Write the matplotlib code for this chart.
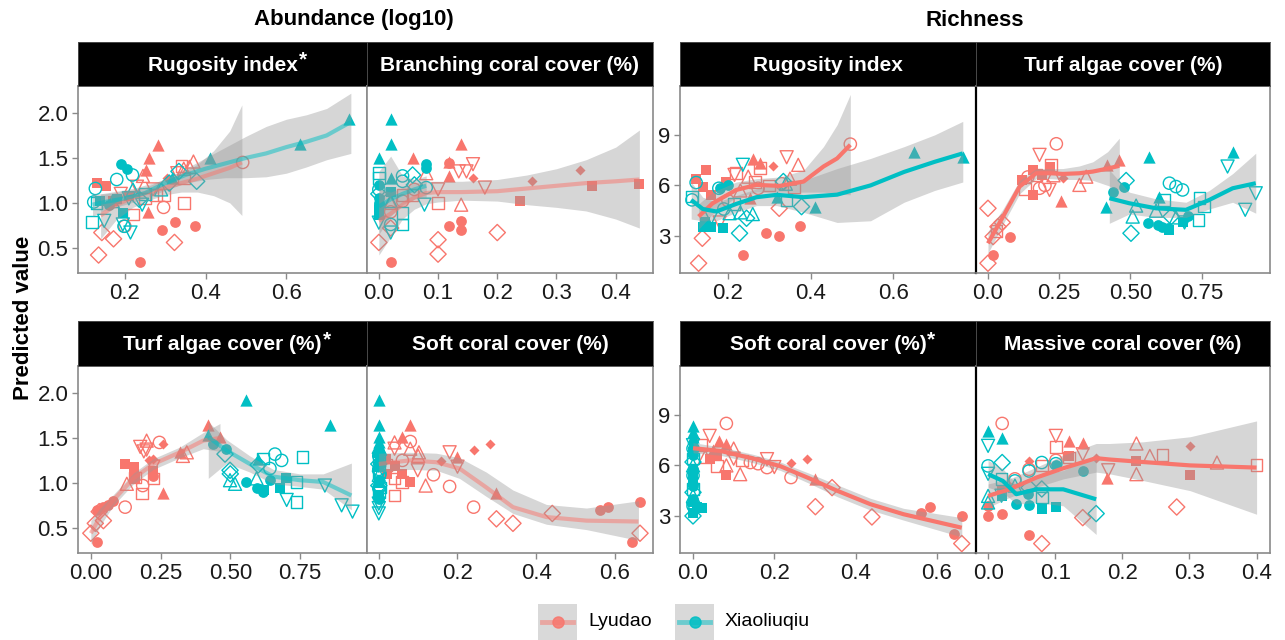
import matplotlib
matplotlib.use("Agg")
import matplotlib.pyplot as plt
from matplotlib.lines import Line2D
from matplotlib.patches import Rectangle

plt.rcParams['font.family'] = ['Liberation Sans', 'DejaVu Sans']

RED = '#F8766D'
TEAL = '#00BFC4'

# ---------------- data ----------------
# marker codes: o/s/^/D filled circle/square/triangle/diamond,
#               O/S/T/V/d open circle/square/triangle/down-triangle/diamond

# Abundance ~ rugosity
a_rug_L_x = [0.131, 0.154, 0.17, 0.21, 0.281, 0.261, 0.253, 0.258, 0.292, 0.324, 0.373, 0.238, 0.305, 0.135, 0.172,
             0.143, 0.323, 0.492, 0.296, 0.20, 0.346, 0.297, 0.277, 0.22, 0.34, 0.346, 0.37, 0.346, 0.245, 0.27,
             0.23, 0.19, 0.33, 0.36, 0.25]
a_rug_L_y = [1.22, 1.19, 1.02, 1.08, 1.64, 1.50, 1.37, 0.90, 0.70, 0.79, 0.74, 0.34, 1.28, 0.42, 0.60,
             0.67, 0.56, 1.45, 0.95, 0.74, 1.00, 1.09, 1.09, 0.87, 1.41, 1.28, 1.46, 1.38, 1.30, 1.15,
             1.18, 1.10, 1.33, 1.40, 1.05]
a_rug_L_m = "s s s s ^ ^ ^ ^ o o o o D d d d d O O O S S S S S S T T T V V V V T S"
a_rug_X_x = [0.19, 0.206, 0.139, 0.18, 0.196, 0.756, 0.635, 0.41, 0.317, 0.127, 0.123, 0.18, 0.219, 0.198, 0.119,
             0.13, 0.149, 0.214, 0.243, 0.195, 0.334, 0.378, 0.236, 0.22, 0.17, 0.16, 0.25, 0.29, 0.31, 0.21]
a_rug_X_y = [1.43, 1.38, 1.02, 1.04, 0.89, 1.93, 1.65, 1.50, 1.28, 1.16, 1.01, 1.26, 1.31, 0.74, 0.79,
             1.00, 0.80, 0.67, 0.98, 0.76, 1.35, 1.24, 1.04, 1.15, 1.02, 0.98, 1.10, 1.15, 1.22, 1.05]
a_rug_X_m = "o o s s s ^ ^ ^ ^ O O O O O S S V V V V d d d T T o S T d V"
a_rug_L_fit_x = [0.14, 0.18, 0.22, 0.26, 0.30, 0.34, 0.38, 0.42, 0.46, 0.49]
a_rug_L_fit_y = [0.86, 0.98, 1.06, 1.12, 1.17, 1.22, 1.27, 1.33, 1.39, 1.45]
a_rug_L_fit_lo = [0.60, 0.82, 0.95, 1.03, 1.09, 1.12, 1.12, 1.08, 1.00, 0.86]
a_rug_L_fit_hi = [1.10, 1.13, 1.16, 1.21, 1.26, 1.33, 1.43, 1.58, 1.80, 2.09]
a_rug_X_fit_x = [0.12, 0.15, 0.2, 0.25, 0.3, 0.35, 0.4, 0.45, 0.5, 0.55, 0.6, 0.65, 0.7, 0.76]
a_rug_X_fit_y = [0.98, 1.01, 1.05, 1.11, 1.22, 1.31, 1.38, 1.44, 1.50, 1.55, 1.62, 1.68, 1.75, 1.90]
a_rug_X_fit_lo = [0.85, 0.92, 0.98, 1.05, 1.14, 1.22, 1.26, 1.28, 1.28, 1.29, 1.33, 1.40, 1.48, 1.55]
a_rug_X_fit_hi = [1.10, 1.10, 1.13, 1.17, 1.27, 1.38, 1.50, 1.62, 1.74, 1.85, 1.93, 1.98, 2.05, 2.22]

# Abundance ~ branching coral
a_bra_L_x = [0.057, 0.139, 0.118, 0.118, 0.118, 0.139, 0.139, 0.02, 0.118, 0.159, 0.259, 0.339, 0.239, 0.36, 0.44,
             0.0, 0.02, 0.1, 0.1, 0.2, 0.159, 0.135, 0.148, 0.179, 0.1, 0.139, 0.08, 0.02, 0.1, 0.057,
             0.04, 0.04, 0.02, 0.06]
a_bra_L_y = [1.50, 1.65, 1.46, 1.30, 0.74, 0.80, 0.70, 0.34, 1.44, 1.28, 1.24, 1.37, 1.02, 1.19, 1.21,
             0.56, 0.72, 0.59, 0.43, 0.67, 1.43, 1.35, 1.35, 1.17, 1.15, 0.98, 1.33, 1.00, 1.00, 1.09,
             1.09, 1.02, 0.90, 1.15]
a_bra_L_m = "^ ^ ^ ^ o o o o o D D D s s s d d d d d V V V V V T T T S S S O O O"
a_bra_X_x = [0.02, 0.02, 0.0, 0.02, 0.0, 0.0, 0.0, 0.0, 0.0, 0.0, 0.0, 0.04, 0.04, 0.04, 0.04, 0.08, 0.08, 0.08,
             0.057, 0.0, 0.0, 0.02, 0.077, 0.02, 0.02, 0.0, 0.0, 0.02, 0.06]
a_bra_X_y = [1.93, 1.65, 1.50, 1.28, 1.33, 1.28, 1.20, 1.05, 0.98, 0.92, 0.87, 0.76, 0.89, 1.30, 1.24, 1.43, 1.39,
             1.17, 1.31, 1.10, 0.78, 0.67, 0.98, 1.02, 0.76, 1.15, 1.00, 1.12, 1.20]
a_bra_X_m = "^ ^ ^ ^ S S o o o s s S S O O o o O d d V V V T O O o s d"
a_bra_L_fit_x = [0.0, 0.02, 0.04, 0.06, 0.08, 0.1, 0.14, 0.2, 0.25, 0.3, 0.35, 0.4, 0.44]
a_bra_L_fit_y = [0.80, 0.88, 0.98, 1.06, 1.11, 1.12, 1.12, 1.13, 1.16, 1.19, 1.22, 1.24, 1.26]
a_bra_L_fit_lo = [0.42, 0.62, 0.82, 0.93, 0.99, 1.01, 1.03, 1.02, 0.98, 0.95, 0.91, 0.82, 0.72]
a_bra_L_fit_hi = [1.15, 1.12, 1.17, 1.22, 1.24, 1.24, 1.24, 1.26, 1.31, 1.38, 1.48, 1.62, 1.81]
a_bra_X_fit_x = [0.0, 0.02, 0.04, 0.06, 0.08]
a_bra_X_fit_y = [0.96, 1.04, 1.10, 1.15, 1.19]
a_bra_X_fit_lo = [0.65, 0.85, 0.98, 1.04, 1.06]
a_bra_X_fit_hi = [1.35, 1.52, 1.30, 1.26, 1.30]

# Richness ~ rugosity
r_rug_L_x = [0.147, 0.123, 0.159, 0.196, 0.14, 0.26, 0.277, 0.253, 0.308, 0.293, 0.324, 0.374, 0.236, 0.496, 0.273,
             0.129, 0.138, 0.324, 0.342, 0.216, 0.37, 0.249, 0.22, 0.277, 0.265, 0.3, 0.35, 0.18, 0.23, 0.36,
             0.33, 0.2]
r_rug_L_y = [6.92, 6.39, 5.44, 6.2, 5.9, 7.55, 7.3, 5.24, 7.16, 3.16, 3.0, 3.61, 1.87, 8.45, 5.83,
             1.38, 2.86, 4.64, 7.67, 6.62, 7.22, 6.52, 6.72, 7.02, 6.2, 6.0, 6.4, 3.8, 5.7, 5.9,
             6.1, 5.1]
r_rug_L_m = "s s s s s ^ ^ ^ D o o o o O O d d d V V T T S S S S T V T S O O"
r_rug_X_x = [0.649, 0.768, 0.411, 0.319, 0.139, 0.159, 0.188, 0.18, 0.2, 0.123, 0.113, 0.178, 0.113, 0.342, 0.378,
             0.228, 0.245, 0.334, 0.236, 0.204, 0.23, 0.34, 0.16, 0.215, 0.19, 0.26, 0.145]
r_rug_X_y = [8.01, 7.67, 4.74, 5.34, 3.55, 3.55, 3.45, 5.85, 6.03, 6.17, 5.14, 5.83, 5.34, 5.14, 4.74,
             3.16, 4.05, 6.23, 7.22, 4.35, 4.4, 6.1, 4.1, 4.9, 4.6, 4.3, 3.8]
r_rug_X_m = "^ ^ ^ ^ s s s o o O O O S S d d d d V T T T V S O T s"
r_rug_L_fit_x = [0.129, 0.163, 0.22, 0.269, 0.326, 0.383, 0.431, 0.464, 0.496]
r_rug_L_fit_y = [4.15, 4.94, 5.73, 6.03, 5.97, 6.23, 7.12, 7.6, 8.41]
r_rug_L_fit_lo = [3.4, 4.3, 5.3, 5.6, 5.6, 5.6, 5.6, 5.5, 5.44]
r_rug_L_fit_hi = [4.9, 5.6, 6.2, 6.4, 6.5, 6.9, 8.3, 9.6, 11.4]
r_rug_X_fit_x = [0.111, 0.139, 0.172, 0.22, 0.269, 0.318, 0.383, 0.464, 0.545, 0.626, 0.7, 0.768]
r_rug_X_fit_y = [5.14, 4.6, 4.45, 4.9, 5.3, 5.44, 5.3, 5.45, 6.0, 6.8, 7.4, 7.9]
r_rug_X_fit_lo = [4.0, 3.9, 3.9, 4.4, 4.8, 4.8, 4.4, 3.8, 3.9, 5.0, 5.7, 6.2]
r_rug_X_fit_hi = [6.2, 5.3, 5.0, 5.4, 5.8, 6.1, 6.3, 7.0, 7.6, 8.3, 9.0, 9.8]

# Richness ~ turf algae
r_turf_L_x = [0.0, 0.0, 0.018, 0.035, 0.018, 0.078, 0.12, 0.158, 0.158, 0.216, 0.19, 0.24, 0.181, 0.181, 0.216,
              0.257, 0.461, 0.417, 0.321, 0.345, 0.263, 0.222, 0.17, 0.2, 0.05, 0.03, 0.13, 0.23, 0.14]
r_turf_L_y = [4.64, 1.38, 2.96, 3.55, 1.87, 2.96, 6.33, 6.92, 5.44, 7.12, 6.6, 8.47, 5.83, 7.81, 5.73,
              5.1, 7.51, 7.22, 6.03, 6.52, 6.43, 7.22, 6.6, 6.0, 3.8, 3.3, 5.8, 6.6, 6.5]
r_turf_L_m = "d d d d o o s s s s s O O V V ^ ^ ^ T T D S S O d S S T O"
r_turf_X_x = [0.567, 0.859, 0.415, 0.602, 0.44, 0.479, 0.561, 0.596, 0.612, 0.631, 0.701, 0.637, 0.683, 0.637,
              0.66, 0.683, 0.619, 0.742, 0.759, 0.739, 0.485, 0.502, 0.643, 0.508, 0.52, 0.59, 0.841, 0.94,
              0.903, 0.69, 0.66]
r_turf_X_y = [7.71, 8.01, 4.74, 5.34, 5.63, 5.93, 3.79, 3.65, 3.55, 3.45, 4.19, 3.36, 3.85, 6.13,
              5.93, 5.73, 5.14, 5.24, 4.74, 3.95, 6.29, 3.16, 4.15, 4.15, 4.8, 4.5, 7.12, 5.53,
              4.55, 3.8, 4.1]
r_turf_X_m = "^ ^ ^ ^ o o o o o o o s s O O O S S S S d d d T T T V V V V T"
r_turf_L_fit_x = [0.0, 0.053, 0.111, 0.169, 0.22, 0.263, 0.32, 0.368, 0.42, 0.461]
r_turf_L_fit_y = [2.56, 4.15, 5.93, 6.72, 6.72, 6.68, 6.72, 6.82, 7.0, 7.16]
r_turf_L_fit_lo = [1.97, 3.7, 5.5, 6.4, 6.4, 6.35, 6.35, 6.3, 6.0, 5.73]
r_turf_L_fit_hi = [3.26, 4.6, 6.3, 7.0, 7.0, 7.0, 7.15, 7.4, 8.0, 8.8]
r_turf_X_fit_x = [0.426, 0.496, 0.59, 0.695, 0.777, 0.859, 0.94]
r_turf_X_fit_y = [5.24, 4.94, 4.64, 4.55, 5.14, 5.83, 6.13]
r_turf_X_fit_lo = [3.75, 4.3, 4.1, 4.1, 4.6, 5.0, 4.35]
r_turf_X_fit_hi = [6.92, 5.6, 5.2, 5.0, 5.7, 6.7, 7.91]

# Abundance ~ turf algae
a_turf_L_x = [0.021, 0.021, 0.045, 0.081, 0.224, 0.0, 0.016, 0.045, 0.123, 0.246, 0.186, 0.123, 0.153, 0.16, 0.224,
              0.2, 0.129, 0.344, 0.177, 0.2, 0.224, 0.26, 0.421, 0.463, 0.32, 0.26, 0.224, 0.183, 0.224, 0.159,
              0.19, 0.21, 0.33, 0.06, 0.03]
a_turf_L_y = [0.34, 0.70, 0.73, 0.80, 1.08, 0.44, 0.55, 0.58, 0.73, 1.45, 0.97, 1.21, 1.18, 1.05, 1.13,
              1.47, 0.99, 1.34, 1.40, 1.37, 1.18, 0.89, 1.64, 1.51, 1.34, 1.43, 1.27, 0.88, 1.05, 1.06,
              1.35, 1.25, 1.30, 0.75, 0.68]
a_turf_L_m = "o o o o o d d d O O O s s s s T T T V V V ^ ^ ^ ^ D D S S S V D T o d"
a_turf_X_x = [0.558, 0.857, 0.421, 0.6, 0.439, 0.484, 0.558, 0.594, 0.618, 0.644, 0.699, 0.678, 0.66, 0.684,
              0.642, 0.759, 0.737, 0.737, 0.618, 0.499, 0.481, 0.5, 0.499, 0.517, 0.594, 0.839, 0.899, 0.938,
              0.702, 0.6, 0.62]
a_turf_X_y = [1.92, 1.64, 1.53, 1.27, 1.43, 1.38, 1.01, 0.94, 0.90, 1.03, 1.05, 0.94, 1.32, 1.25,
              1.16, 1.29, 1.01, 0.79, 1.27, 1.14, 1.32, 1.10, 1.03, 0.99, 1.05, 0.97, 0.75, 0.68,
              0.81, 1.20, 0.92]
a_turf_X_m = "^ ^ ^ ^ o o o o o o s s O O O S S S S d d d T T T V V V V d s"
a_turf_L_fit_x = [0.0, 0.033, 0.081, 0.153, 0.224, 0.32, 0.403, 0.463]
a_turf_L_fit_y = [0.44, 0.62, 0.81, 1.05, 1.21, 1.34, 1.47, 1.50]
a_turf_L_fit_lo = [0.32, 0.52, 0.75, 0.99, 1.15, 1.28, 1.38, 1.35]
a_turf_L_fit_hi = [0.58, 0.72, 0.87, 1.11, 1.27, 1.40, 1.56, 1.66]
a_turf_X_fit_x = [0.421, 0.487, 0.57, 0.654, 0.749, 0.833, 0.934]
a_turf_X_fit_y = [1.51, 1.36, 1.21, 1.07, 1.03, 1.01, 0.86]
a_turf_X_fit_lo = [1.05, 1.22, 1.12, 0.99, 0.96, 0.93, 0.70]
a_turf_X_fit_hi = [1.68, 1.48, 1.30, 1.15, 1.10, 1.10, 1.22]

# Abundance ~ soft coral
a_soft_L_x = [0.08, 0.059, 0.2, 0.299, 0.08, 0.139, 0.18, 0.241, 0.04, 0.102, 0.08, 0.119, 0.04, 0.18, 0.2,
              0.099, 0.241, 0.282, 0.159, 0.04, 0.059, 0.08, 0.019, 0.04, 0.059, 0.04, 0.299, 0.341, 0.441,
              0.664, 0.562, 0.583, 0.664, 0.643, 0.02, 0.06, 0.02, 0.1]
a_soft_L_y = [1.64, 1.51, 1.29, 0.89, 1.46, 1.09, 0.96, 0.73, 1.45, 1.34, 1.38, 0.97, 1.38, 1.34, 1.18,
              1.14, 1.37, 1.43, 1.24, 1.19, 1.10, 1.01, 1.27, 0.86, 1.01, 1.05, 0.60, 0.55, 0.66,
              0.44, 0.70, 0.73, 0.79, 0.34, 1.20, 1.25, 1.10, 1.30]
a_soft_L_m = "^ ^ ^ ^ O O O O T T T T V V V V D D D s s s s S S S d d d d o o o o S O s T"
a_soft_X_x = [0.0] * 26 + [0.003, 0.003, 0.003, 0.003]
a_soft_X_y = [1.92, 1.64, 1.51, 1.45, 1.40, 1.36, 1.33, 1.30, 1.27, 1.24, 1.21, 1.18, 1.15, 1.12, 1.09, 1.06,
              1.03, 1.00, 0.97, 0.94, 0.90, 0.86, 0.82, 0.77, 0.72, 0.66, 1.25, 1.10, 0.95, 1.38]
a_soft_X_m = "^ ^ ^ ^ T o s O S o d s O S T V o s d O S s o V V V ^ O S T"
a_soft_L_fit_x = [0.0, 0.078, 0.146, 0.205, 0.273, 0.341, 0.426, 0.528, 0.66]
a_soft_L_fit_y = [1.21, 1.25, 1.23, 1.16, 0.95, 0.73, 0.62, 0.58, 0.57]
a_soft_L_fit_lo = [1.12, 1.15, 1.14, 1.05, 0.85, 0.66, 0.54, 0.48, 0.36]
a_soft_L_fit_hi = [1.33, 1.34, 1.33, 1.28, 1.12, 0.92, 0.76, 0.72, 0.80]

# Richness ~ soft coral
r_soft_L_x = [0.082, 0.141, 0.182, 0.241, 0.041, 0.182, 0.2, 0.063, 0.082, 0.301, 0.116, 0.082, 0.043, 0.06, 0.082,
              0.241, 0.28, 0.301, 0.342, 0.44, 0.661, 0.561, 0.582, 0.661, 0.641, 0.059, 0.02, 0.1, 0.12, 0.03,
              0.16, 0.05, 0.1]
r_soft_L_y = [8.49, 6.17, 5.87, 5.28, 7.75, 6.37, 5.9, 7.46, 7.26, 5.18, 5.48, 6.0, 6.37, 6.6, 5.44,
              6.17, 6.37, 3.55, 4.68, 2.94, 1.36, 3.2, 3.55, 3.0, 1.91, 5.97, 7.2, 6.4, 6.3, 6.5,
              6.1, 6.9, 7.0]
r_soft_L_m = "O O O O V V V ^ ^ ^ T T s s s D D d d d d o o o o S S V S T O ^ T"
r_soft_X_x = [0.0] * 26 + [0.022, 0.01]
r_soft_X_y = [8.35, 8.0, 7.7, 7.4, 7.2, 7.0, 6.8, 6.6, 6.4, 6.2, 6.0, 5.8, 5.6, 5.4, 5.2, 5.0, 4.8, 4.6, 4.4,
              4.2, 4.0, 3.8, 3.6, 3.4, 3.2, 3.0, 3.5, 3.55]
r_soft_X_m = "^ ^ ^ ^ V O s o S d T o s O ^ s o S d T o s O V s d s s"
r_soft_L_fit_x = [0.0, 0.067, 0.149, 0.215, 0.289, 0.354, 0.436, 0.518, 0.661]
r_soft_L_fit_y = [7.02, 6.86, 6.4, 5.95, 5.2, 4.5, 3.7, 3.1, 2.3]
r_soft_L_fit_lo = [6.75, 6.6, 6.15, 5.7, 4.9, 4.15, 3.35, 2.75, 1.75]
r_soft_L_fit_hi = [7.35, 7.1, 6.65, 6.2, 5.5, 4.85, 4.05, 3.45, 2.9]

# Richness ~ massive coral
r_mass_L_x = [0.021, 0.061, 0.101, 0.0, 0.02, 0.061, 0.0, 0.08, 0.141, 0.281, 0.121, 0.141, 0.177, 0.101, 0.141,
              0.179, 0.101, 0.121, 0.26, 0.4, 0.121, 0.221, 0.301, 0.061, 0.301, 0.161, 0.221, 0.221, 0.241,
              0.341, 0.04, 0.08, 0.02]
r_mass_L_y = [8.49, 5.77, 6.3, 3.0, 3.14, 1.87, 3.6, 1.36, 2.9, 3.53, 7.46, 7.3, 5.24, 7.75, 6.66,
              5.71, 7.1, 6.47, 6.6, 6.03, 6.56, 6.27, 5.44, 6.27, 7.16, 6.43, 7.3, 5.48, 6.56,
              6.17, 5.2, 6.0, 4.5]
r_mass_L_m = "O O O o o o o d d d ^ ^ ^ V V V S S S S s s s D D D T T T T O S s"
r_mass_X_x = [0.0, 0.02, 0.0, 0.0, 0.02, 0.0, 0.04, 0.061, 0.08, 0.101, 0.021, 0.061, 0.08, 0.161, 0.041, 0.061,
              0.141, 0.101, 0.08, 0.101, 0.02, 0.02, 0.08, 0.0, 0.0, 0.04, 0.06]
r_mass_X_y = [8.05, 7.65, 7.16, 5.5, 4.2, 5.97, 5.08, 5.67, 6.17, 6.1, 6.17, 4.68, 4.6, 3.14, 3.69, 3.65,
              5.67, 6.03, 3.4, 3.53, 4.19, 5.18, 4.09, 4.19, 3.8, 4.8, 4.3]
r_mass_X_m = "^ ^ V V V O O O O O d d d d o o o o s s s S S T T T o"
r_mass_L_fit_x = [0.0, 0.032, 0.072, 0.112, 0.161, 0.181, 0.231, 0.301, 0.4]
r_mass_L_fit_y = [4.19, 4.58, 5.28, 5.83, 6.43, 6.35, 6.2, 6.0, 5.87]
r_mass_L_fit_lo = [3.5, 4.1, 4.7, 5.2, 5.6, 5.5, 5.1, 4.5, 3.1]
r_mass_L_fit_hi = [4.9, 5.2, 5.9, 6.6, 7.3, 7.3, 7.4, 7.7, 8.64]
r_mass_X_fit_x = [0.0, 0.022, 0.042, 0.072, 0.112, 0.161]
r_mass_X_fit_y = [5.48, 5.08, 4.29, 4.58, 4.58, 3.99]
r_mass_X_fit_lo = [4.7, 4.4, 3.7, 3.8, 3.6, 1.9]
r_mass_X_fit_hi = [6.3, 5.8, 4.9, 5.4, 5.7, 6.6]

# ---------------- drawing ----------------
MARKERS = {
    'o': ('o', True, 60), 's': ('s', True, 58), '^': ('^', True, 78), 'D': ('D', True, 26),
    'O': ('o', False, 78), 'S': ('s', False, 70), 'T': ('^', False, 88), 'V': ('v', False, 88),
    'd': ('D', False, 68),
}

W, H = 1285, 640
fig = plt.figure(figsize=(12.85, 6.4), dpi=100)


def fx(px):
    return px / W


def fy(py):
    return 1 - py / H


def points(ax, xs, ys, codes, color):
    for x, y, c in zip(xs, ys, codes.split()):
        m, filled, s = MARKERS[c]
        if filled:
            ax.scatter(x, y, marker=m, s=s, color=color, linewidths=0, zorder=2, clip_on=False)
        else:
            ax.scatter(x, y, marker=m, s=s, facecolors='none', edgecolors=color,
                       linewidths=1.0, zorder=2, clip_on=False)


def smooth(ax, xs, ys, lo, hi, color, alpha):
    ax.fill_between(xs, lo, hi, color='#999999', alpha=0.4, linewidth=0, zorder=3)
    ax.plot(xs, ys, color=color, lw=3.0, alpha=alpha, solid_capstyle='butt', zorder=4)


col_x = [(78, 367), (367, 653), (680, 976), (976, 1270)]
row_y = [(86, 273), (366, 553)]
strip_y = [(42, 86), (321, 366)]


def panel(col, row, title, star, xlim, xticks, xlabels, ylim, yticks, show_y):
    x0, x1 = col_x[col]
    y0, y1 = row_y[row]
    ax = fig.add_axes([fx(x0), fy(y1), fx(x1 - x0), (y1 - y0) / H])
    ax.set_xlim(*xlim)
    ax.set_ylim(*ylim)
    ax.set_xticks(xticks)
    ax.set_xticklabels(xlabels)
    ax.set_yticks(yticks)
    ax.tick_params(labelsize=16, colors='#8a8a8a', labelcolor='#1a1a1a', length=4, width=1, pad=3)
    if not show_y:
        ax.tick_params(axis='y', left=False, labelleft=False)
    else:
        ax.set_yticklabels([('%g' % v) if v >= 3 else '%.1f' % v for v in yticks])
    for sp in ax.spines.values():
        sp.set_color('#8a8a8a')
        sp.set_linewidth(1.2)
        sp.set_zorder(5)
    if col == 3:
        ax.spines['left'].set_color('black')
        ax.spines['left'].set_linewidth(1.6)

    s0, s1 = strip_y[row]
    sax = fig.add_axes([fx(x0), fy(s1), fx(x1 - x0), (s1 - s0) / H])
    sax.set_facecolor('black')
    sax.set_xticks([])
    sax.set_yticks([])
    for sp in sax.spines.values():
        sp.set_color('#555555')
        sp.set_linewidth(0.6)
    t = sax.text(0.5, 0.47, title, color='white', fontsize=15, fontweight='bold',
                 ha='center', va='center', transform=sax.transAxes)
    if star:
        fig.canvas.draw()
        bb = t.get_window_extent()
        sax.text(bb.x1 + 1, bb.y1 + 5, '*', color='white', fontsize=15, fontweight='bold',
                 ha='left', va='top', transform=None)
    return ax


ab_ylim = (0.22, 2.3)
ab_yt = [0.5, 1.0, 1.5, 2.0]
ri_ylim = (0.8, 11.9)
ri_yt = [3, 6, 9]
LEFT_ALPHA = 0.5

ax = panel(0, 0, 'Rugosity index', True, (0.084, 0.8), [0.2, 0.4, 0.6], ['0.2', '0.4', '0.6'], ab_ylim, ab_yt, True)
points(ax, a_rug_L_x, a_rug_L_y, a_rug_L_m, RED)
points(ax, a_rug_X_x, a_rug_X_y, a_rug_X_m, TEAL)
smooth(ax, a_rug_L_fit_x, a_rug_L_fit_y, a_rug_L_fit_lo, a_rug_L_fit_hi, RED, LEFT_ALPHA)
smooth(ax, a_rug_X_fit_x, a_rug_X_fit_y, a_rug_X_fit_lo, a_rug_X_fit_hi, TEAL, LEFT_ALPHA)

ax = panel(1, 0, 'Branching coral cover (%)', False, (-0.02, 0.463), [0.0, 0.1, 0.2, 0.3, 0.4],
           ['0.0', '0.1', '0.2', '0.3', '0.4'], ab_ylim, ab_yt, False)
points(ax, a_bra_L_x, a_bra_L_y, a_bra_L_m, RED)
points(ax, a_bra_X_x, a_bra_X_y, a_bra_X_m, TEAL)
smooth(ax, a_bra_L_fit_x, a_bra_L_fit_y, a_bra_L_fit_lo, a_bra_L_fit_hi, RED, LEFT_ALPHA)
smooth(ax, a_bra_X_fit_x, a_bra_X_fit_y, a_bra_X_fit_lo, a_bra_X_fit_hi, TEAL, LEFT_ALPHA)

ax = panel(2, 0, 'Rugosity index', False, (0.084, 0.8), [0.2, 0.4, 0.6], ['0.2', '0.4', '0.6'], ri_ylim, ri_yt, True)
points(ax, r_rug_L_x, r_rug_L_y, r_rug_L_m, RED)
points(ax, r_rug_X_x, r_rug_X_y, r_rug_X_m, TEAL)
smooth(ax, r_rug_L_fit_x, r_rug_L_fit_y, r_rug_L_fit_lo, r_rug_L_fit_hi, RED, 1.0)
smooth(ax, r_rug_X_fit_x, r_rug_X_fit_y, r_rug_X_fit_lo, r_rug_X_fit_hi, TEAL, 1.0)

ax = panel(3, 0, 'Turf algae cover (%)', False, (-0.042, 0.99), [0.0, 0.25, 0.5, 0.75],
           ['0.0', '0.25', '0.50', '0.75'], ri_ylim, ri_yt, False)
points(ax, r_turf_L_x, r_turf_L_y, r_turf_L_m, RED)
points(ax, r_turf_X_x, r_turf_X_y, r_turf_X_m, TEAL)
smooth(ax, r_turf_L_fit_x, r_turf_L_fit_y, r_turf_L_fit_lo, r_turf_L_fit_hi, RED, 1.0)
smooth(ax, r_turf_X_fit_x, r_turf_X_fit_y, r_turf_X_fit_lo, r_turf_X_fit_hi, TEAL, 1.0)

ax = panel(0, 1, 'Turf algae cover (%)', True, (-0.046, 0.99), [0.0, 0.25, 0.5, 0.75],
           ['0.00', '0.25', '0.50', '0.75'], ab_ylim, ab_yt, True)
points(ax, a_turf_L_x, a_turf_L_y, a_turf_L_m, RED)
points(ax, a_turf_X_x, a_turf_X_y, a_turf_X_m, TEAL)
smooth(ax, a_turf_L_fit_x, a_turf_L_fit_y, a_turf_L_fit_lo, a_turf_L_fit_hi, RED, LEFT_ALPHA)
smooth(ax, a_turf_X_fit_x, a_turf_X_fit_y, a_turf_X_fit_lo, a_turf_X_fit_hi, TEAL, LEFT_ALPHA)

ax = panel(1, 1, 'Soft coral cover (%)', False, (-0.03, 0.697), [0.0, 0.2, 0.4, 0.6],
           ['0.0', '0.2', '0.4', '0.6'], ab_ylim, ab_yt, False)
points(ax, a_soft_L_x, a_soft_L_y, a_soft_L_m, RED)
points(ax, a_soft_X_x, a_soft_X_y, a_soft_X_m, TEAL)
smooth(ax, a_soft_L_fit_x, a_soft_L_fit_y, a_soft_L_fit_lo, a_soft_L_fit_hi, RED, LEFT_ALPHA)

ax = panel(2, 1, 'Soft coral cover (%)', True, (-0.032, 0.696), [0.0, 0.2, 0.4, 0.6],
           ['0.0', '0.2', '0.4', '0.6'], ri_ylim, ri_yt, True)
points(ax, r_soft_L_x, r_soft_L_y, r_soft_L_m, RED)
points(ax, r_soft_X_x, r_soft_X_y, r_soft_X_m, TEAL)
smooth(ax, r_soft_L_fit_x, r_soft_L_fit_y, r_soft_L_fit_lo, r_soft_L_fit_hi, RED, 1.0)

ax = panel(3, 1, 'Massive coral cover (%)', False, (-0.018, 0.42), [0.0, 0.1, 0.2, 0.3, 0.4],
           ['0.0', '0.1', '0.2', '0.3', '0.4'], ri_ylim, ri_yt, False)
points(ax, r_mass_L_x, r_mass_L_y, r_mass_L_m, RED)
points(ax, r_mass_X_x, r_mass_X_y, r_mass_X_m, TEAL)
smooth(ax, r_mass_L_fit_x, r_mass_L_fit_y, r_mass_L_fit_lo, r_mass_L_fit_hi, RED, 1.0)
smooth(ax, r_mass_X_fit_x, r_mass_X_fit_y, r_mass_X_fit_lo, r_mass_X_fit_hi, TEAL, 1.0)

# group titles and shared y label
fig.text(fx(354), fy(20), 'Abundance (log10)', fontsize=16, fontweight='bold', ha='center', va='center')
fig.text(fx(975), fy(20), 'Richness', fontsize=16, fontweight='bold', ha='center', va='center')
fig.text(fx(24), fy(318), 'Predicted value', fontsize=16, fontweight='bold', rotation=90,
         ha='center', va='center')

# legend
for kx, name, color in [(538, 'Lyudao', RED), (675, 'Xiaoliuqiu', TEAL)]:
    fig.patches.append(Rectangle((fx(kx), fy(640)), fx(39), 36 / H, transform=fig.transFigure,
                                 facecolor='#d9d9d9', edgecolor='none'))
    fig.lines.append(Line2D([fx(kx + 4), fx(kx + 35)], [fy(622), fy(622)], transform=fig.transFigure,
                            color=color, alpha=0.5, lw=3.5))
    fig.lines.append(Line2D([fx(kx + 19.5)], [fy(622)], transform=fig.transFigure, marker='o',
                            markersize=8, color=color, alpha=0.85, lw=0))
    fig.text(fx(kx + 50), fy(622), name, fontsize=14, ha='left', va='center')

fig.savefig('out.png', dpi=100, facecolor='white')
